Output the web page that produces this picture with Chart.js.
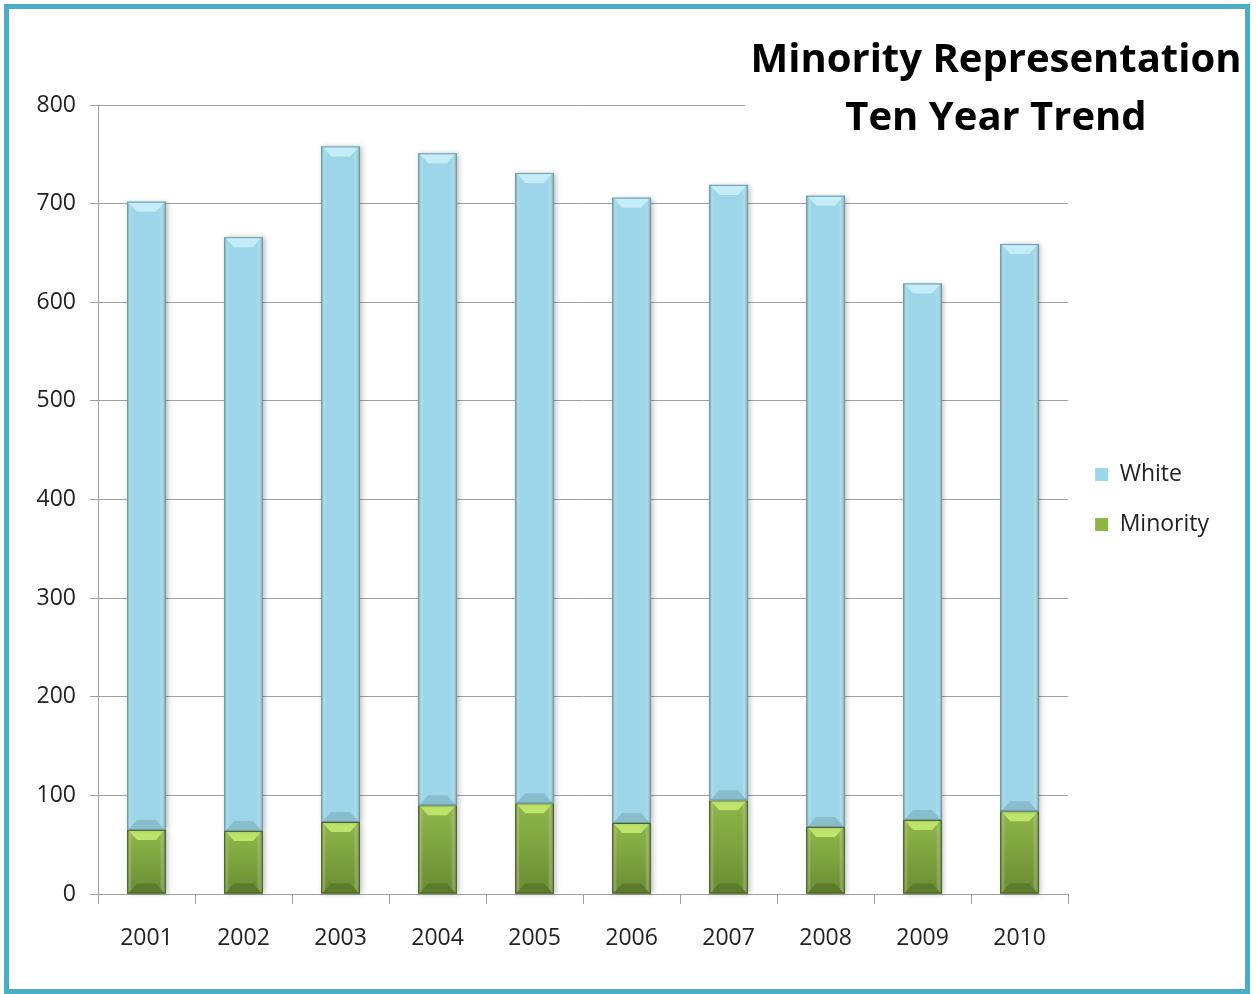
<!DOCTYPE html>
<html>
<head>
<meta charset="utf-8">
<script src="https://cdn.jsdelivr.net/npm/chart.js@4.4.0/dist/chart.umd.min.js"></script>
<style>
  body { margin: 0; background: #ffffff; }
  #frame {
    position: absolute; left: 4px; top: 4px;
    width: 1246px; height: 990px;
    border: 5px solid #4BACC6; box-sizing: border-box;
    background: #ffffff;
  }
  #frame canvas { display: block; }
</style>
</head>
<body>
<div id="frame"><canvas id="trend-chart" width="1236" height="980"></canvas></div>
<script>
const years = ['2001', '2002', '2003', '2004', '2005', '2006', '2007', '2008', '2009', '2010'];
const minority = [65, 64, 73, 90, 92, 72, 95, 68, 75, 84];
const white = [637, 602, 685, 661, 639, 634, 624, 640, 544, 575];
const titleLines = ['Minority Representation', 'Ten Year Trend'];

// shading for the 3d-ish bars, one per dataset
const shades = [
    { main: '#8FB74A', dark: '#6A8C33', edge: '#4E6A22', top: '#BFE46C', low: '#5B7A2C' },
    { main: '#9DD6E8', dark: '#8CC4D6', edge: '#6B9CAB', top: '#C5EDF7', low: '#8ABDCC' }
];

const bevel = {
    id: 'bevel',
    afterDatasetsDraw(chart) {
        const c = chart.ctx;
        c.save();
        chart.data.datasets.forEach((ds, i) => {
            const s = shades[i];
            chart.getDatasetMeta(i).data.forEach(bar => {
                const p = bar.getProps(['x', 'y', 'base', 'width'], true);
                const l = p.x - p.width / 2, r = p.x + p.width / 2;
                const t = Math.min(p.y, p.base), b = Math.max(p.y, p.base);
                const h = b - t;
                const d = Math.min(10, h / 3);

                // body, darker toward the bottom for the green part
                const gv = c.createLinearGradient(0, t, 0, b);
                gv.addColorStop(0, s.main);
                gv.addColorStop(1, i === 0 ? s.dark : s.main);
                c.fillStyle = gv;
                c.shadowColor = 'rgba(0,0,0,0.25)';
                c.shadowBlur = 5;
                c.shadowOffsetX = 2;
                c.fillRect(l, t, r - l, h);
                c.shadowColor = 'rgba(0,0,0,0)';
                c.shadowBlur = 0;
                c.shadowOffsetX = 0;

                // side shading
                const gh = c.createLinearGradient(l, 0, r, 0);
                gh.addColorStop(0, s.edge);
                gh.addColorStop(0.12, 'rgba(255,255,255,0)');
                gh.addColorStop(0.85, 'rgba(255,255,255,0)');
                gh.addColorStop(1, s.edge);
                c.fillStyle = gh;
                c.fillRect(l, t, r - l, h);

                // top bevel
                c.fillStyle = s.top;
                c.beginPath();
                c.moveTo(l + 1, t);
                c.lineTo(r - 1, t);
                c.lineTo(r - d, t + d);
                c.lineTo(l + d, t + d);
                c.closePath();
                c.fill();

                // bottom bevel
                c.fillStyle = s.low;
                c.beginPath();
                c.moveTo(l + 1, b);
                c.lineTo(r - 1, b);
                c.lineTo(r - d, b - d);
                c.lineTo(l + d, b - d);
                c.closePath();
                c.fill();

                c.strokeStyle = s.edge;
                c.lineWidth = 1;
                c.strokeRect(l + 0.5, t + 0.5, r - l - 1, h - 1);
            });
        });
        c.restore();
    }
};

const titleBox = {
    id: 'titleBox',
    afterDatasetsDraw(chart) {
        const c = chart.ctx;
        c.save();
        c.fillStyle = '#ffffff';
        c.fillRect(736, 20, 500, 120);
        c.fillStyle = '#000000';
        c.font = 'bold 40px "Open Sans"';
        c.textAlign = 'center';
        c.textBaseline = 'alphabetic';
        c.fillText(titleLines[0], 987, 63);
        c.fillText(titleLines[1], 987, 121);
        c.restore();
    }
};

const ctx = document.getElementById('trend-chart').getContext('2d');

new Chart(ctx, {
    type: 'bar',
    data: {
        labels: years,
        datasets: [{
            label: 'Minority',
            data: minority,
            backgroundColor: '#8DB548',
            borderWidth: 0
        }, {
            label: 'White',
            data: white,
            backgroundColor: '#9DD6E8',
            borderWidth: 0
        }]
    },
    plugins: [bevel, titleBox],
    options: {
        responsive: false,
        animation: false,
        barPercentage: 0.8,
        categoryPercentage: 0.5,
        layout: {
            padding: { top: 96, right: 26, left: 0, bottom: 0 }
        },
        plugins: {
            legend: {
                position: 'right',
                fullSize: false,
                reverse: true,
                labels: {
                    boxWidth: 13,
                    boxHeight: 13,
                    padding: 27,
                    color: '#222222',
                    font: { family: '"Open Sans"', size: 23 }
                }
            },
            tooltip: { enabled: false }
        },
        scales: {
            x: {
                stacked: true,
                grid: {
                    drawOnChartArea: false,
                    color: '#A0A0A0',
                    tickLength: 10
                },
                border: { color: '#A0A0A0' },
                ticks: {
                    color: '#222222',
                    padding: 21,
                    font: { family: '"Open Sans"', size: 23 }
                },
                afterFit(scale) { scale.height = 95; }
            },
            y: {
                stacked: true,
                min: 0,
                max: 800,
                grid: {
                    color: '#A0A0A0',
                    tickLength: 8
                },
                border: { color: '#A0A0A0' },
                ticks: {
                    stepSize: 100,
                    color: '#222222',
                    padding: 14,
                    font: { family: '"Open Sans"', size: 23 }
                },
                afterFit(scale) { scale.width = 89; }
            }
        }
    }
});
</script>
</body>
</html>
